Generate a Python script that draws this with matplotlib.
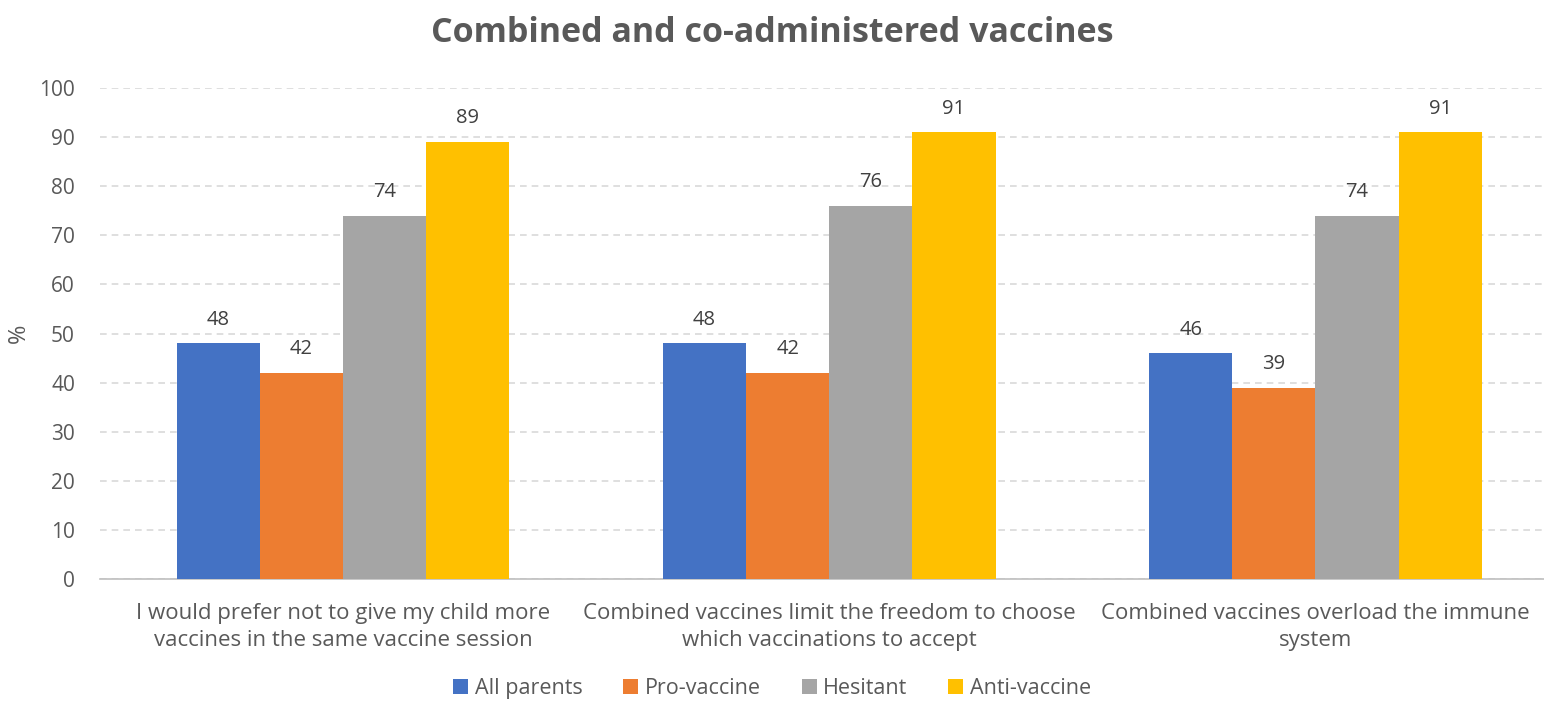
import numpy as np
import matplotlib.pyplot as plt

plt.rcParams["font.family"] = ["Open Sans", "DejaVu Sans"]

categories = [
    "I would prefer not to give my child more\nvaccines in the same vaccine session",
    "Combined vaccines limit the freedom to choose\nwhich vaccinations to accept",
    "Combined vaccines overload the immune\nsystem",
]
groups = ["All parents", "Pro-vaccine", "Hesitant", "Anti-vaccine"]
all_parents = [48, 48, 46]
pro_vaccine = [42, 42, 39]
hesitant = [74, 76, 74]
anti_vaccine = [89, 91, 91]

colors = ["#4472C4", "#ED7D31", "#A5A5A5", "#FFC000"]
text_color = "#595959"

fig = plt.figure(figsize=(15.44, 7.15), dpi=100)
ax = fig.add_axes([100 / 1544, 136 / 715, 1444 / 1544, 491 / 715])

x = np.arange(len(categories))
width = 0.171
series = [all_parents, pro_vaccine, hesitant, anti_vaccine]

for i, (name, vals) in enumerate(zip(groups, series)):
    pos = x + (i - 1.5) * width
    bars = ax.bar(pos, vals, width, color=colors[i], label=name, zorder=3)
    for b, v in zip(bars, vals):
        ax.annotate(str(v), (b.get_x() + b.get_width() / 2, v),
                    xytext=(0, 17), textcoords="offset points",
                    ha="center", va="center", fontsize=14.5, color="#404040")

ax.set_xlim(-0.5, 2.47)
ax.set_ylim(0, 100)
ax.set_yticks(range(0, 101, 10))
ax.yaxis.grid(True, color="#D9D9D9", linestyle=(0, (4, 3)), linewidth=1.2, zorder=0)
ax.set_xticks(x)
ax.set_xticklabels(categories, color=text_color, linespacing=1.4)
ax.tick_params(axis="both", length=0, colors=text_color)
ax.tick_params(axis="x", pad=17, labelsize=16)
ax.tick_params(axis="y", pad=18, labelsize=15)

for side in ["top", "right", "left"]:
    ax.spines[side].set_visible(False)
ax.spines["bottom"].set_color("#BFBFBF")
ax.spines["bottom"].set_linewidth(1.2)

ax.set_ylabel("%", fontsize=17, color=text_color, rotation=90, labelpad=6)

fig.suptitle("Combined and co-administered vaccines", x=0.5, y=0.978,
             fontsize=24.5, fontweight="bold", color=text_color)

fig.legend(loc="lower center", bbox_to_anchor=(0.5, -0.005), ncol=4, frameon=False,
           fontsize=15.5, handlelength=0.7, handleheight=0.7, columnspacing=1.9,
           handletextpad=0.3, labelcolor=text_color)

fig.savefig("out.png", dpi=100)
